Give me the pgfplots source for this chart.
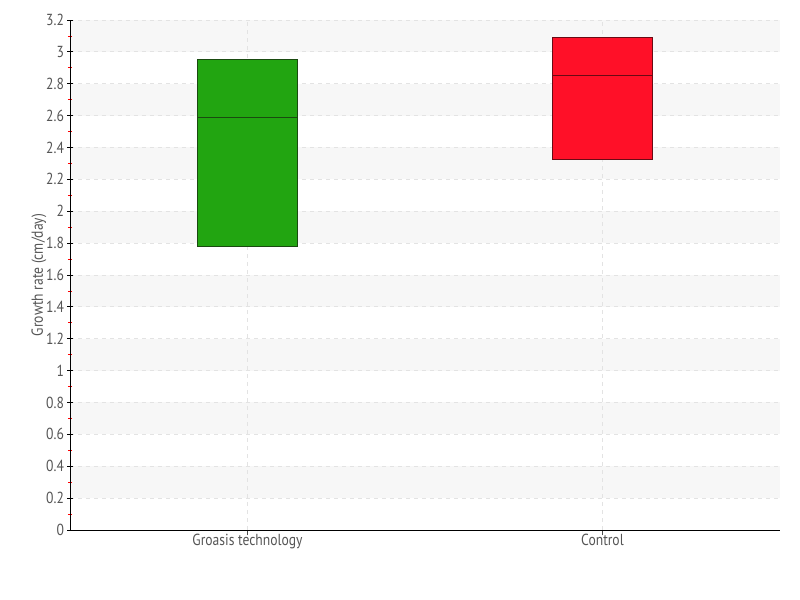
\documentclass[border=0pt]{standalone}
\usepackage{pgfplots}
\pgfplotsset{compat=1.18}
\usepgfplotslibrary{statistics}
\usepackage{fontspec}
\setmainfont[FakeStretch=0.85]{PT Sans}
\definecolor{txt}{HTML}{555555}
\definecolor{band}{HTML}{F7F7F7}
\definecolor{gridc}{HTML}{E3E3E3}
\definecolor{boxgreen}{HTML}{22A511}
\definecolor{edgegreen}{HTML}{1A4A10}
\definecolor{boxred}{HTML}{FF1028}
\definecolor{edgered}{HTML}{6A0A14}
\begin{document}
\begin{tikzpicture}
\begin{axis}[
  at={(0pt,0pt)}, anchor=south west,
  scale only axis, width=532.5pt, height=382.5pt,
  xmin=-0.5, xmax=1.5, ymin=0, ymax=3.2,
  axis on top,
  axis lines=left, axis line style={-, black, line width=0.6pt},
  xtick={0,1}, xticklabels={Groasis technology, Control},
  ytick={0,0.2,0.4,0.6,0.8,1,1.2,1.4,1.6,1.8,2,2.2,2.4,2.6,2.8,3,3.2},
  minor y tick num=1,
  /pgf/number format/assume math mode=true,
  ytick style={black, line width=0.6pt}, minor y tick style={red, line width=0.5pt},
  ytick align=center, xtick align=outside,
  xtick style={black!70, line width=0.6pt},
  major tick length=4pt, minor tick length=3pt,
  tick label style={font=\fontsize{12}{13}\selectfont, text=txt},
  yticklabel style={xshift=1pt},
  xticklabel style={yshift=4.5pt},
  ylabel={Growth rate (cm/day)},
  ylabel style={font=\fontsize{12}{13}\selectfont, text=txt},
  ylabel shift=-7pt,
]
% alternating background bands
\fill[band] (axis cs:-0.5,0.2) rectangle (axis cs:1.5,0.4);
\fill[band] (axis cs:-0.5,0.6) rectangle (axis cs:1.5,0.8);
\fill[band] (axis cs:-0.5,1.0) rectangle (axis cs:1.5,1.2);
\fill[band] (axis cs:-0.5,1.4) rectangle (axis cs:1.5,1.6);
\fill[band] (axis cs:-0.5,1.8) rectangle (axis cs:1.5,2.0);
\fill[band] (axis cs:-0.5,2.2) rectangle (axis cs:1.5,2.4);
\fill[band] (axis cs:-0.5,2.6) rectangle (axis cs:1.5,2.8);
\fill[band] (axis cs:-0.5,3.0) rectangle (axis cs:1.5,3.2);
% dashed grid
\pgfplotsinvokeforeach{0.2,0.4,0.6,0.8,1,1.2,1.4,1.6,1.8,2,2.2,2.4,2.6,2.8,3,3.2}{
  \draw[gridc, dashed, line width=0.6pt] (axis cs:-0.5,#1) -- (axis cs:1.5,#1);
}
\draw[gridc, dashed, line width=0.6pt] (axis cs:0,0) -- (axis cs:0,3.2);
\draw[gridc, dashed, line width=0.6pt] (axis cs:1,0) -- (axis cs:1,3.2);
\addplot+[boxplot prepared={draw direction=y, draw position=0, median=2.59, upper quartile=2.955,
  lower quartile=1.776, upper whisker=2.955, lower whisker=1.776,
  box extend=0.2817},
  draw=edgegreen, fill=boxgreen, line width=0.7pt, solid, mark=none] coordinates {};
\addplot+[boxplot prepared={draw direction=y, draw position=1, median=2.855, upper quartile=3.093,
  lower quartile=2.328, upper whisker=3.093, lower whisker=2.328,
  box extend=0.2817},
  draw=edgered, fill=boxred, line width=0.7pt, solid, mark=none] coordinates {};
\end{axis}
\path (-52.5pt,-52.5pt) (547.5pt,397.5pt);
\end{tikzpicture}
\end{document}
